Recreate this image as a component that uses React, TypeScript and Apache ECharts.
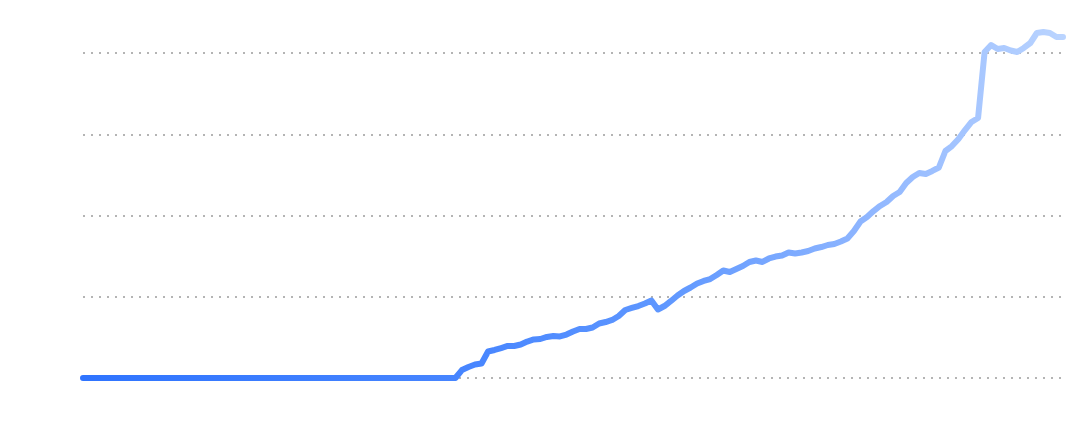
import React, { useEffect, useRef } from "react";
import * as echarts from "echarts";

const flatCount = 58;
const risingValues: number[] = [
  9.8, 13.5, 16.6, 17.8, 32.6, 34.5, 36.9, 39.4, 39.4, 41.2,
  44.9, 47.4, 48.0, 50.5, 51.7, 51.1, 53.5, 57.2, 60.3, 60.3,
  62.2, 67.1, 68.9, 71.4, 76.3, 83.7, 86.2, 88.6, 91.7, 95.4,
  84.3, 88.6, 94.8, 101.5, 107.1, 111.4, 116.3, 119.4, 121.8, 126.8,
  132.3, 130.5, 134.2, 137.8, 142.8, 144.6, 142.8, 147.1, 149.5, 150.8,
  154.5, 153.2, 154.5, 156.3, 159.4, 161.2, 163.7, 164.9, 168.0, 171.7,
  180.9, 192.6, 198.2, 205.5, 211.7, 216.6, 224.0, 228.9, 240.0, 247.4,
  252.3, 251.1, 254.8, 259.1, 279.4, 285.5, 294.2, 305.2, 315.1, 320.0,
  401.2, 409.8, 404.9, 406.2, 403.1, 401.2, 406.2, 412.3, 424.6, 425.8,
  424.6, 419.7, 419.7,
];
const flatValues: number[] = new Array(flatCount).fill(0);
const values: number[] = [...flatValues, ...risingValues];
const categories: string[] = values.map((_, i) => String(i));

const yMin = 0;
const yMax = 400;
const yInterval = 100;

export default function App() {
  const ref = useRef<HTMLDivElement>(null);
  useEffect(() => {
    document.body.style.margin = "0";
    const chart = echarts.init(ref.current!, null, { renderer: "svg" });
    chart.setOption({
      animation: false,
      backgroundColor: "#ffffff",
      grid: { left: 83, right: 4, top: 53, bottom: 52 },
      xAxis: {
        type: "category",
        data: categories,
        boundaryGap: false,
        show: false,
      },
      yAxis: {
        type: "value",
        min: yMin,
        max: yMax,
        interval: yInterval,
        axisLabel: { show: false },
        axisLine: { show: false },
        axisTick: { show: false },
        splitLine: {
          show: true,
          lineStyle: { color: "#b4b4b4", width: 2, type: [2, 6] },
        },
      },
      series: [
        {
          type: "line",
          data: values,
          showSymbol: false,
          clip: false,
          smooth: false,
          lineStyle: {
            width: 6,
            cap: "round",
            join: "round",
            color: new echarts.graphic.LinearGradient(0, 0, 1, 0, [
              { offset: 0, color: "#2f74ff" },
              { offset: 0.4, color: "#4886ff" },
              { offset: 0.6, color: "#6098ff" },
              { offset: 0.8, color: "#8fb6ff" },
              { offset: 1, color: "#bad4ff" },
            ]),
          },
        },
      ],
    });
    return () => chart.dispose();
  }, []);
  return <div ref={ref} style={{ width: 1067, height: 430 }} />;
}
